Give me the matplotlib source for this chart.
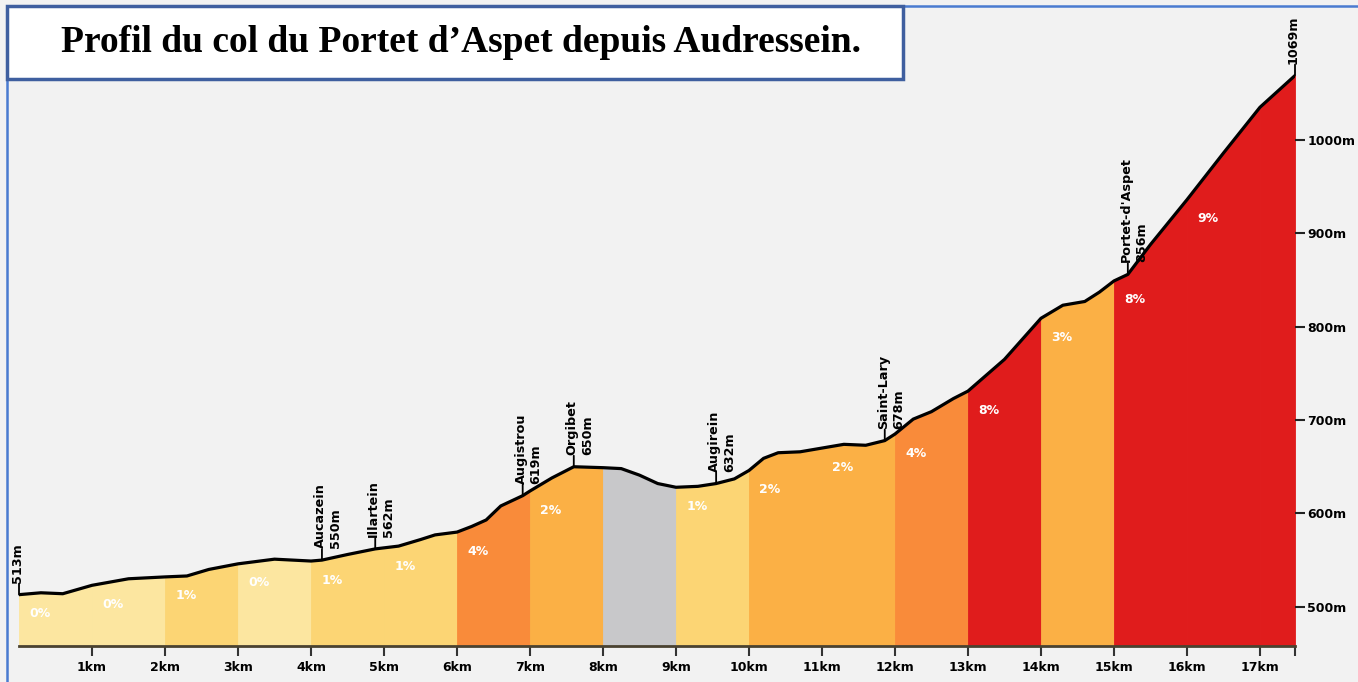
import numpy as np
import matplotlib
matplotlib.use("Agg")
import matplotlib.pyplot as plt
from matplotlib.patches import Rectangle
from matplotlib.lines import Line2D

# profil (km, altitude en m)
dist_km = [0, 0.3, 0.6, 1.0, 1.5, 2.0, 2.3, 2.6, 3.0, 3.5, 4.0, 4.15, 4.5, 4.88, 5.2,
           5.5, 5.7, 6.0, 6.2, 6.4, 6.6, 6.9, 7.0, 7.3, 7.6, 8.0, 8.25, 8.5, 8.75,
           9.0, 9.3, 9.55, 9.8, 10.0, 10.2, 10.4, 10.7, 11.0, 11.3, 11.6, 11.86,
           12.0, 12.25, 12.5, 12.8, 13.0, 13.5, 14.0, 14.3, 14.6, 14.8, 15.0,
           15.19, 15.5, 16.0, 16.5, 17.0, 17.48]
alt_m = [513, 515, 514, 523, 530, 532, 533, 540, 546, 551, 549, 550, 556, 562, 565,
         572, 577, 580, 586, 593, 608, 619, 624, 638, 650, 649, 648, 641, 632,
         628, 629, 632, 637, 646, 659, 665, 666, 670, 674, 673, 678,
         685, 701, 709, 723, 731, 765, 809, 823, 827, 837, 849,
         856, 888, 936, 986, 1035, 1069]

# pente par kilomètre (None = descente)
km_start = list(range(18))
grades = [0, 0, 1, 0, 1, 1, 4, 2, None, 1, 2, 2, 4, 8, 3, 8, 9, 9]
grade_labels = ["0%", "0%", "1%", "0%", "1%", "1%", "4%", "2%", "", "1%", "2%", "2%",
                "4%", "8%", "3%", "8%", "9%", ""]

# points de passage
places = ["", "Aucazein", "Illartein", "Augistrou", "Orgibet", "Augirein",
          "Saint-Lary", "Portet-d'Aspet", ""]
places_km = [0, 4.15, 4.88, 6.9, 7.6, 9.55, 11.86, 15.19, 17.48]
places_alt = [513, 550, 562, 619, 650, 632, 678, 856, 1069]

y_ticks = [500, 600, 700, 800, 900, 1000]
x_ticks = list(range(1, 18))
total_km = 17.48

colors = {0: "#fce6a0", 1: "#fcd574", 2: "#fbb045", 3: "#fbb045",
          4: "#f98b3a", 8: "#e01c1c", 9: "#e01c1c", None: "#c8c8ca"}

bg = "#f2f2f2"
fig = plt.figure(figsize=(13.58, 6.82), dpi=100, facecolor=bg)
W, H = 1358, 682
ax = fig.add_axes([19 / W, 1 - 646 / H, 1276 / W, (646 - 46.6) / H])
ax.set_facecolor(bg)
ax.set_xlim(0, total_km)
ax.set_ylim(458, 1100)

xs = np.array(dist_km, dtype=float)
ys = np.array(alt_m, dtype=float)

for i, k in enumerate(km_start):
    a, b = k, min(k + 1, total_km)
    if a >= total_km:
        break
    inside = (xs > a) & (xs < b)
    sx = np.concatenate([[a], xs[inside], [b]])
    sy = np.interp(sx, xs, ys)
    c = colors[grades[i]]
    ax.fill_between(sx, 458, sy, facecolor=c, edgecolor=c, lw=0.6, zorder=1)
    if grade_labels[i]:
        ax.annotate(grade_labels[i], (a, np.interp(a, xs, ys)),
                    xytext=(21, -19), textcoords="offset pixels",
                    ha="center", va="center", color="white",
                    fontsize=9, fontweight="bold", zorder=4)

ax.plot(xs, ys, color="black", lw=2.3, solid_capstyle="round",
        solid_joinstyle="round", zorder=3)

# étiquettes verticales
for name, km, alt in zip(places, places_km, places_alt):
    ax.annotate("", (km, alt), xytext=(0, 11), textcoords="offset pixels",
                arrowprops=dict(arrowstyle="-", color="black", lw=1.3,
                                shrinkA=0, shrinkB=0), zorder=4)
    txt = f"{name}\n{alt}m" if name else f"{alt}m"
    ax.annotate(txt, (km, alt), xytext=(-8, 12), textcoords="offset pixels",
                rotation=90, ha="left", va="bottom", fontsize=9.2,
                fontweight="bold", color="black", linespacing=1.2,
                multialignment="left", zorder=4)

for s in ["top", "left", "right"]:
    ax.spines[s].set_visible(False)
ax.spines["bottom"].set_color("#4a4230")
ax.spines["bottom"].set_linewidth(2)
ax.spines["bottom"].set_zorder(5)

ax.set_xticks(x_ticks)
ax.set_xticklabels([f"{k}km" for k in x_ticks], fontsize=9, fontweight="bold")
ax.set_xticks([total_km], minor=True)
ax.tick_params(axis="x", which="both", direction="out", length=7, width=1.5,
               color="#333333", pad=4)

ax.yaxis.tick_right()
ax.set_yticks(y_ticks)
ax.set_yticklabels([f"{v}m" for v in y_ticks], fontsize=9, fontweight="bold")
ax.tick_params(axis="y", direction="out", length=7, width=1.5, color="#222222", pad=2)

# cadre et titre
fig.add_artist(Line2D([7 / W, 7 / W], [0, 1 - 6 / H], color="#4a7bd0", lw=1.8,
                      transform=fig.transFigure))
fig.add_artist(Line2D([7 / W, 1], [1 - 6 / H, 1 - 6 / H], color="#4a7bd0", lw=1.8,
                      transform=fig.transFigure))
fig.add_artist(Rectangle((7 / W, 1 - 79 / H), (903 - 7) / W, 73 / H,
                         transform=fig.transFigure, facecolor="white",
                         edgecolor="#3f5f9f", lw=2.5, zorder=10))
fig.text(461 / W, 1 - 42 / H, "Profil du col du Portet d\u2019Aspet depuis Audressein.",
         ha="center", va="center", fontsize=27, fontweight="bold",
         family="Liberation Serif", zorder=11)

fig.savefig("out.png", dpi=100, facecolor=bg)
